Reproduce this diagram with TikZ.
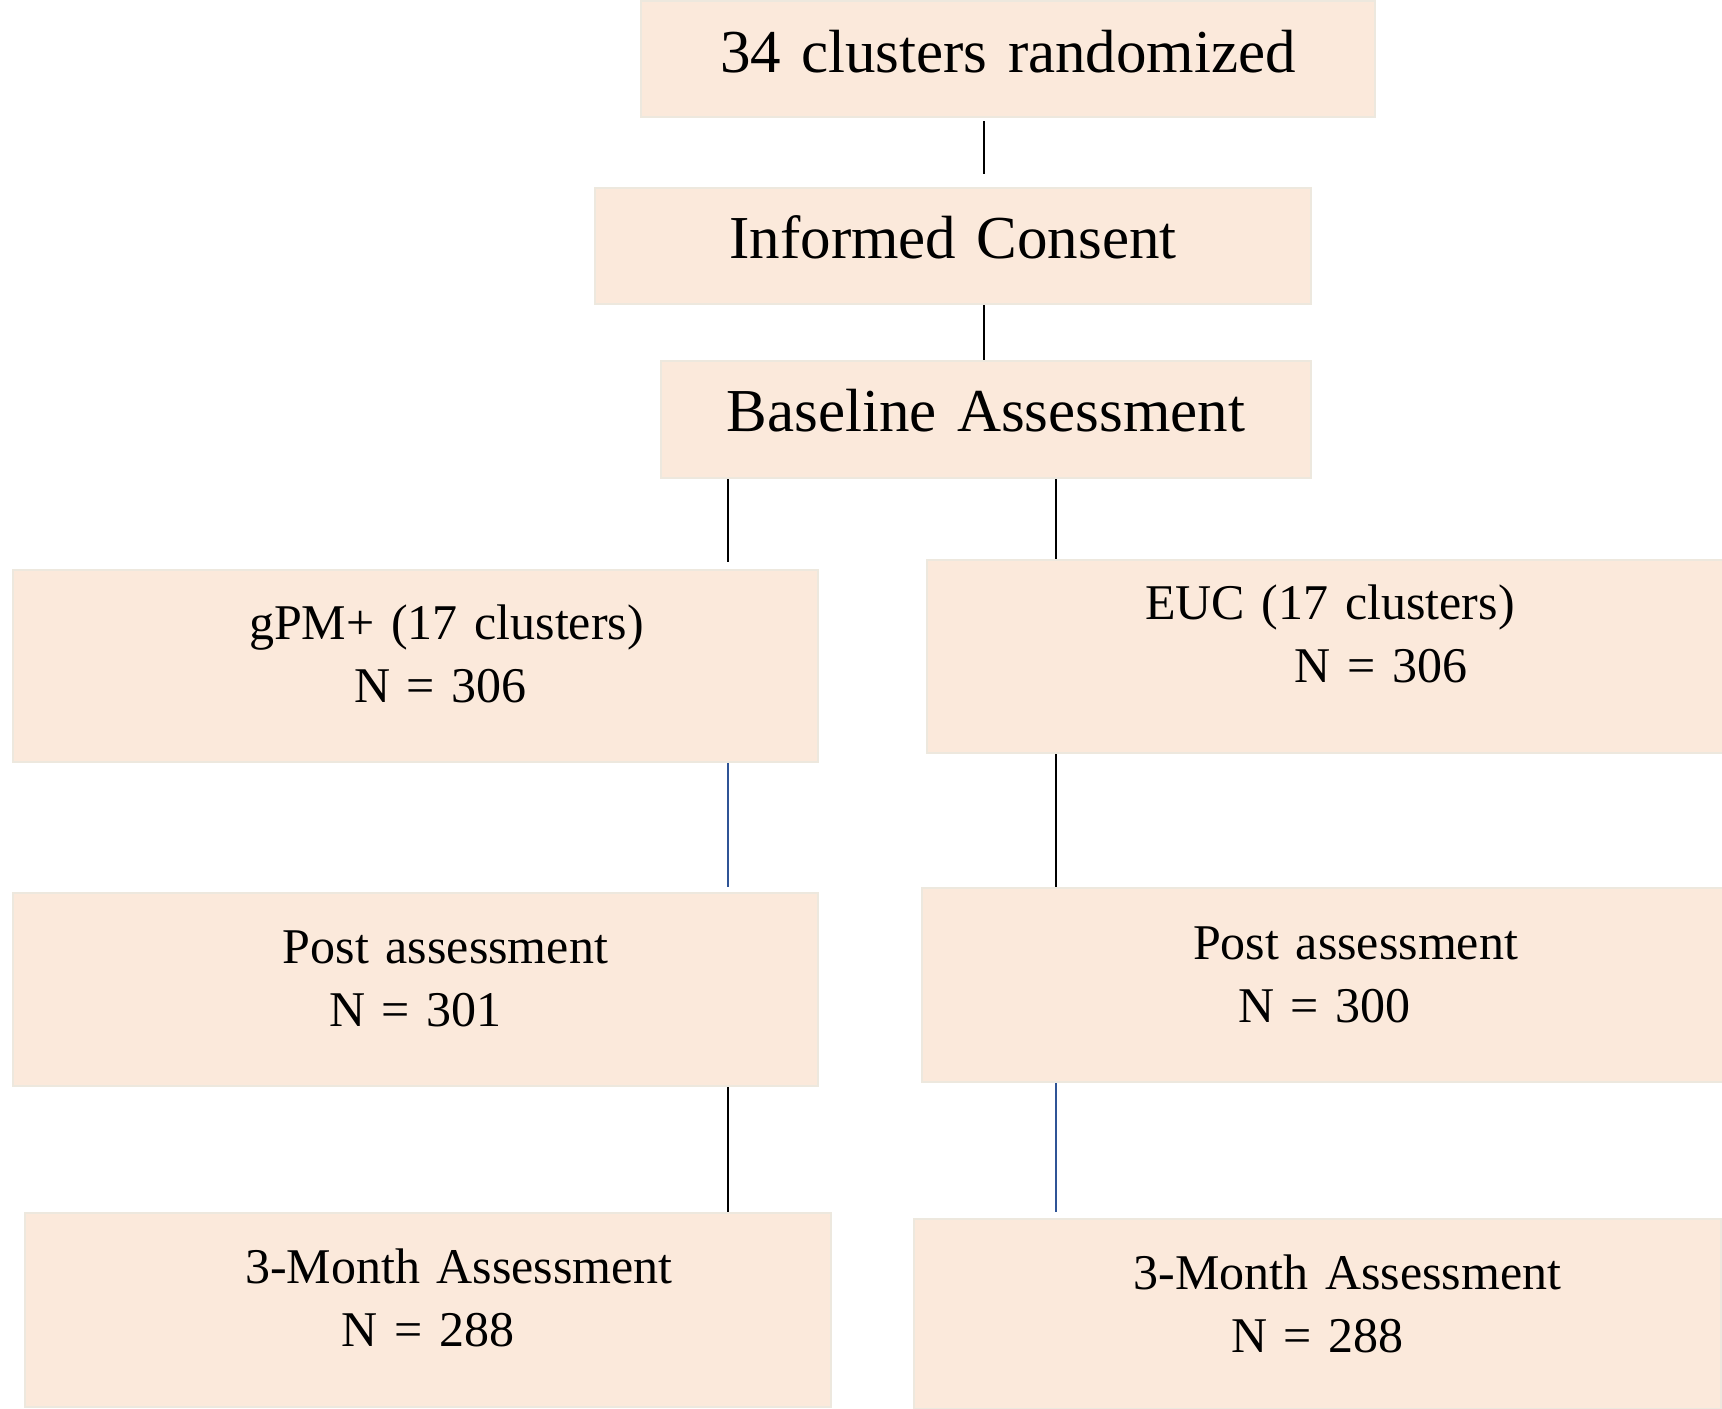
\documentclass[tikz,border=0pt]{standalone}
\usepackage{fontspec}
\setmainfont{Liberation Serif}[WordSpace={1,0,0}]
\usepackage{tikz}
\usetikzlibrary{
	positioning,
	calc}
\definecolor{peach}{RGB}{251,233,219}
\definecolor{peach edge}{RGB}{237,232,222}
\definecolor{wire blue}{RGB}{47,84,150}
\newcommand{\topfont}{\fontsize{30.5}{38}\selectfont}
\newcommand{\lowfont}{\fontsize{25}{31.5}\selectfont}
\tikzset{
	flow chart/.style={
		x=0.5pt, y=-0.5pt,
		},
	stage/.style={
		rectangle,
		draw = peach edge,
		fill = peach,
		line width = 1pt,
		inner sep = 0pt,
		align = center,
		anchor = north west,
		font = \lowfont
	},
	stage size/.style n args={3}{
		text width=#1,
		text height=#2,
		text depth=#3
	},
	wire/.style={
		draw=black,
		line width=.8pt
	},
	blue wire/.style={
		wire,
		draw=wire blue
	},
}

\begin{document}
\begin{tikzpicture}[flow chart]
	\fill[white] (0,0) rectangle (1722,1408);
	\useasboundingbox (0,0) rectangle (1722,1408);
	\node[stage, font=\topfont, stage size={367pt}{35.5pt}{22.5pt}] (rand)     at (640,0)   {34 clusters randomized};
	\node[stage, font=\topfont, stage size={358pt}{35pt}{23pt}]     (consent)  at (594,187) {Informed Consent};
	\node[stage, font=\topfont, stage size={325pt}{35pt}{23.5pt}]   (baseline) at (660,360) {Baseline Assessment};
	\node[stage, stage size={402.5pt}{34.5pt}{61.5pt}] (gpm)      at (12,569)   {\hspace*{31pt}gPM+ (17 clusters)\\ \hspace*{25pt}N = 306};
	\node[stage, stage size={398pt}{29.5pt}{67pt}]     (euc)      at (926,559)  {\hspace*{5pt}EUC (17 clusters)\\ \hspace*{56pt}N = 306};
	\node[stage, stage size={402.5pt}{35pt}{61.5pt}]   (gpmpost)  at (12,892)   {\hspace*{30pt}Post assessment\\ N = 301};
	\node[stage, stage size={400.5pt}{35.5pt}{61.5pt}] (eucpost)  at (921,887)  {\hspace*{33pt}Post assessment\\ \hspace*{2pt}N = 300};
	\node[stage, stage size={403pt}{35pt}{62pt}]       (gpmthree) at (24,1212)  {\hspace*{31pt}3-Month Assessment\\ N = 288};
	\node[stage, stage size={403.5pt}{35pt}{60pt}]     (eucthree) at (913,1218) {\hspace*{30pt}3-Month Assessment\\ N = 288};
%
	\coordinate (midcol)   at (984,0);
	\coordinate (leftcol)  at (728,0);
	\coordinate (rightcol) at (1056,0);
%
	\draw[wire, shorten <=1.5pt, shorten >=6.5pt] (rand.south -| midcol) -- (consent.north -| midcol);
	\draw[wire] (consent.south -| midcol) -- (baseline.north -| midcol);
	\draw[wire, shorten >=3.5pt] (baseline.south -| leftcol) -- (gpm.north -| leftcol);
	\draw[wire] (baseline.south -| rightcol) -- (euc.north -| rightcol);
	\draw[blue wire, shorten >=2.5pt] (gpm.south -| leftcol) -- (gpmpost.north -| leftcol);
	\draw[wire] (euc.south -| rightcol) -- (eucpost.north -| rightcol);
	\draw[wire] (gpmpost.south -| leftcol) -- (gpmthree.north -| leftcol);
	\draw[blue wire, shorten >=3pt] (eucpost.south -| rightcol) -- (eucthree.north -| rightcol);
\end{tikzpicture}
\end{document}
